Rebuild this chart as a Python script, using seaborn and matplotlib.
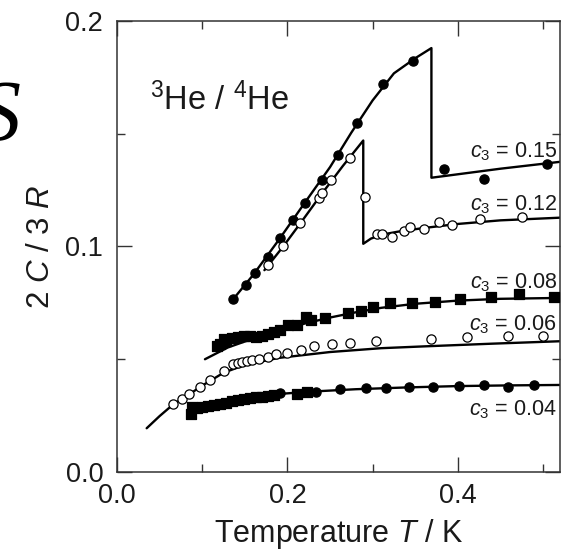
import matplotlib
matplotlib.use("Agg")
import matplotlib.pyplot as plt
import seaborn as sns
import pandas as pd
from matplotlib.ticker import MultipleLocator

# ---------------- data ----------------
# c3 = 0.15 (filled circles)
t15 = [0.1365, 0.151, 0.162, 0.1775, 0.191, 0.207, 0.2205, 0.240, 0.2596, 0.282,
       0.3124, 0.3468, 0.3836, 0.4305, 0.5048]
c15 = [0.0767, 0.083, 0.0884, 0.0955, 0.1036, 0.1118, 0.1195, 0.1295, 0.1406, 0.1546,
       0.172, 0.1824, 0.1344, 0.1298, 0.1366]
t15_fit = [0.1365, 0.16, 0.19, 0.22, 0.25, 0.275, 0.30, 0.325, 0.35, 0.369, 0.369, 0.45, 0.521]
c15_fit = [0.0767, 0.0875, 0.1030, 0.1192, 0.1352, 0.1505, 0.1648, 0.1768, 0.1835, 0.1880,
           0.1305, 0.1345, 0.1376]

# c3 = 0.12 (open circles)
t12 = [0.1775, 0.195, 0.2147, 0.2375, 0.241, 0.2513, 0.2729, 0.291, 0.3046, 0.3105, 0.3225,
       0.3364, 0.3440, 0.3605, 0.378, 0.3937, 0.4258, 0.4754]
c12 = [0.0918, 0.1001, 0.1103, 0.1215, 0.1236, 0.1295, 0.1392, 0.1218, 0.1055, 0.1055, 0.1040,
       0.1069, 0.1085, 0.1076, 0.1110, 0.1095, 0.1121, 0.1130]
t12_fit = [0.173, 0.195, 0.215, 0.24, 0.265, 0.289, 0.289, 0.298, 0.31, 0.33, 0.36, 0.40, 0.45, 0.521]
c12_fit = [0.0895, 0.1000, 0.1102, 0.1232, 0.1357, 0.1470, 0.1012, 0.1035, 0.1052, 0.1066,
           0.1082, 0.1100, 0.1116, 0.1128]

# c3 = 0.08 (filled squares)
t08 = [0.117, 0.121, 0.125, 0.128, 0.135, 0.142, 0.149, 0.156, 0.163, 0.170, 0.177, 0.184,
       0.191, 0.201, 0.211, 0.2217, 0.228, 0.244, 0.2713, 0.2862, 0.3007, 0.320, 0.3457,
       0.373, 0.4023, 0.4395, 0.472, 0.5126]
c08 = [0.0560, 0.0568, 0.0588, 0.0581, 0.0594, 0.0599, 0.0603, 0.0603, 0.0599, 0.0603,
       0.0612, 0.0621, 0.0628, 0.0652, 0.0652, 0.0689, 0.0674, 0.0684, 0.0704, 0.0715,
       0.0733, 0.0748, 0.0748, 0.0752, 0.0767, 0.0778, 0.0789, 0.0778]
t08_fit = [0.1032, 0.13, 0.16, 0.19, 0.22, 0.25, 0.28, 0.31, 0.35, 0.40, 0.45, 0.521]
c08_fit = [0.0500, 0.0552, 0.0592, 0.0624, 0.0658, 0.0685, 0.0708, 0.0728, 0.0746, 0.0760,
           0.0768, 0.0772]

# c3 = 0.06 (open circles)
t06 = [0.066, 0.076, 0.085, 0.097, 0.109, 0.125, 0.136, 0.1417, 0.147, 0.153, 0.159, 0.167,
       0.177, 0.187, 0.199, 0.2155, 0.231, 0.2518, 0.274, 0.3035, 0.369, 0.4113, 0.4583, 0.500]
c06 = [0.0300, 0.0325, 0.0347, 0.0378, 0.0410, 0.0447, 0.0477, 0.0484, 0.0489, 0.0494,
       0.0497, 0.0502, 0.0510, 0.0524, 0.0527, 0.0541, 0.0559, 0.0568, 0.0573, 0.0582,
       0.0588, 0.0600, 0.0603, 0.0603]
t06_fit = [0.0348, 0.05, 0.066, 0.085, 0.10, 0.125, 0.15, 0.19, 0.25, 0.31, 0.36, 0.44, 0.521]
c06_fit = [0.0194, 0.0248, 0.0300, 0.0345, 0.0383, 0.0440, 0.0475, 0.0506, 0.0532, 0.0549,
           0.0557, 0.0569, 0.0580]

# c3 = 0.04 (filled squares at low T, filled circles above)
t04_sq = [0.087, 0.088, 0.094, 0.100, 0.107, 0.114, 0.121, 0.128, 0.135, 0.142, 0.149,
          0.156, 0.163, 0.170, 0.177, 0.184, 0.2108, 0.2225]
c04_sq = [0.0258, 0.0288, 0.0282, 0.0288, 0.0293, 0.0298, 0.0302, 0.0308, 0.0313, 0.0318,
          0.0322, 0.0327, 0.0331, 0.0334, 0.0337, 0.0341, 0.0346, 0.0353]
t04 = [0.191, 0.2334, 0.2616, 0.292, 0.3155, 0.343, 0.3703, 0.4016, 0.4305, 0.459, 0.4895]
c04 = [0.0349, 0.0356, 0.0367, 0.0371, 0.0374, 0.0376, 0.0378, 0.0381, 0.0386, 0.0378, 0.0386]
t04_fit = [0.085, 0.10, 0.13, 0.16, 0.19, 0.23, 0.28, 0.34, 0.40, 0.46, 0.521]
c04_fit = [0.0262, 0.0286, 0.0312, 0.0331, 0.0346, 0.0357, 0.0367, 0.0375, 0.0381, 0.0384, 0.0386]

series_labels = ["0.15", "0.12", "0.08", "0.06", "0.04"]
label_y = [0.1397, 0.1162, 0.0816, 0.0630, 0.0253]

x_ticks = [0.0, 0.2, 0.4]
y_ticks = [0.0, 0.1, 0.2]

# ---------------- style ----------------
sns.set_theme(style="ticks")
plt.rcParams["font.family"] = ["Liberation Sans", "DejaVu Sans"]
plt.rcParams["mathtext.fontset"] = "custom"
plt.rcParams["mathtext.rm"] = "Liberation Sans"
plt.rcParams["mathtext.it"] = "Liberation Sans:italic"
plt.rcParams["mathtext.bf"] = "Liberation Sans:bold"

ink = "#1a1a1a"
fig = plt.figure(figsize=(5.61, 5.53), dpi=100)
ax = fig.add_axes([0.2086, 0.1465, 0.7905, 0.8155])

lw = 1.7
for tt, cc in [(t15_fit, c15_fit), (t12_fit, c12_fit), (t08_fit, c08_fit),
               (t06_fit, c06_fit), (t04_fit, c04_fit)]:
    sns.lineplot(x=tt, y=cc, sort=False, estimator=None, color="black", lw=lw, ax=ax, zorder=2)

ms = 44
def pts(tt, cc, marker, fill):
    df = pd.DataFrame({"T": tt, "C": cc})
    sns.scatterplot(data=df, x="T", y="C", marker=marker, s=ms,
                    color=fill, edgecolor="black", linewidth=0.9, ax=ax, zorder=3)

pts(t15, c15, "o", "black")
pts(t12, c12, "o", "white")
pts(t08, c08, "s", "black")
pts(t06, c06, "o", "white")
pts(t04_sq, c04_sq, "s", "black")
pts(t04, c04, "o", "black")

for lab, yy in zip(series_labels, label_y):
    ax.text(0.516, yy, r"$c_3$ = " + lab, ha="right", va="baseline",
            fontsize=15.5, color=ink)

ax.text(0.0387, 0.1605, r"$^3$He / $^4$He", ha="left", va="baseline", fontsize=23.5, color=ink)

ax.set_xlim(0, 0.5205)
ax.set_ylim(0, 0.2)
ax.set_xticks(x_ticks)
ax.set_yticks(y_ticks)
ax.set_xticklabels([f"{v:.1f}" for v in x_ticks])
ax.set_yticklabels([f"{v:.1f}" for v in y_ticks])
ax.xaxis.set_minor_locator(MultipleLocator(0.1))
ax.yaxis.set_minor_locator(MultipleLocator(0.05))
ax.tick_params(which="both", direction="in", top=True, right=True, color="#333333", width=1.0)
ax.tick_params(which="major", length=10.5, labelsize=19.5, labelcolor=ink)
ax.tick_params(axis="y", which="major", pad=10)
ax.tick_params(axis="x", which="major", pad=8)
ax.tick_params(which="minor", length=6)
for sp in ax.spines.values():
    sp.set_color("#333333")
    sp.set_linewidth(1.1)

ax.set_xlabel(r"Temperature $T$ / K", fontsize=22, color=ink, labelpad=6)
ax.set_ylabel(r"2 $C$ / 3 $R$", fontsize=22.5, color=ink, labelpad=7)

fig.text(-22 / 561, 1 - 140 / 553, "S", family="Liberation Serif", style="italic",
         fontsize=62, color="black", ha="left", va="baseline")

fig.savefig("out.png", dpi=100)
